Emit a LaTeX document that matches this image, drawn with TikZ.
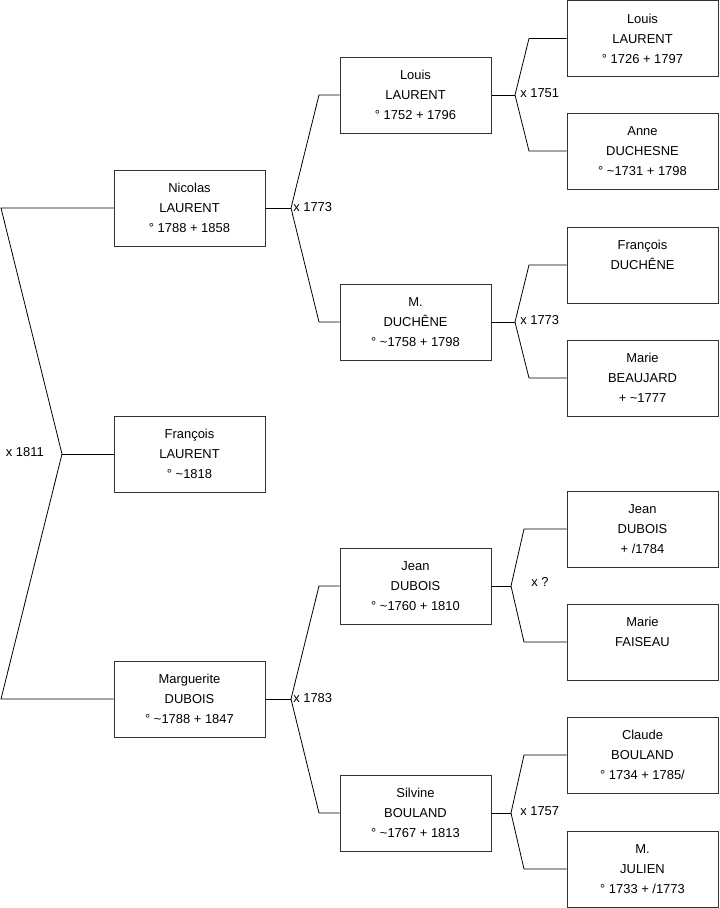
\documentclass[tikz,border=0pt]{standalone}
\usepackage{fontspec}
\setmainfont{Liberation Sans}
\usepackage{tikz}
\usetikzlibrary{positioning,calc}

\begin{document}
\begin{tikzpicture}[
    x=0.75pt,
    y=-0.75pt,
    font=\fontsize{9.7}{15}\selectfont,
    person/.style={
        draw=black!80,
        line width=0.75pt,
        minimum width=113.25pt,
        minimum height=57pt,
        inner sep=0pt,
        align=center,
        fill=white
    },
    link/.style={line width=0.6pt, black},
    marr/.style={inner sep=0pt, font=\fontsize{9.7}{11}\selectfont}
]
\useasboundingbox (0,0) rectangle (719,908);

% first generation
\node[person] (nicolas) at (189.5,208)
{Nicolas\\ LAURENT\\ ° 1788 + 1858};
\node[person] (francois) at (189.5,454)
{François\\ LAURENT\\ ° \textasciitilde1818};
\node[person] (marguerite) at (189.5,699)
{Marguerite\\ DUBOIS\\ ° \textasciitilde1788 + 1847};

% parents
\node[person] (louis) at (415.5,95)
{Louis\\ LAURENT\\ ° 1752 + 1796};
\node[person] (mduchene) at (415.5,322)
{M.\\ DUCHÊNE\\ ° \textasciitilde1758 + 1798};
\node[person] (jean) at (415.5,586)
{Jean\\ DUBOIS\\ ° \textasciitilde1760 + 1810};
\node[person] (silvine) at (415.5,813)
{Silvine\\ BOULAND\\ ° \textasciitilde1767 + 1813};

% grandparents
\node[person] (louisl) at (642.5,38.5)
{Louis\\ LAURENT\\ ° 1726 + 1797};
\node[person] (anne) at (642.5,151)
{Anne\\ DUCHESNE\\ ° \textasciitilde1731 + 1798};
\node[person] (francoisd) at (642.5,265)
{François\\ DUCHÊNE\\ \mbox{}};
\node[person] (marieb) at (642.5,378)
{Marie\\ BEAUJARD\\ + \textasciitilde1777};
\node[person] (jeand) at (642.5,529)
{Jean\\ DUBOIS\\ + /1784};
\node[person] (marief) at (642.5,642)
{Marie\\ FAISEAU\\ \mbox{}};
\node[person] (claude) at (642.5,755)
{Claude\\ BOULAND\\ ° 1734 + 1785/};
\node[person] (mjulien) at (642.5,869)
{M.\\ JULIEN\\ ° 1733 + /1773};

% junctions
\coordinate (jroot) at (62,454);
\coordinate (jnic) at (291,208);
\coordinate (jmar) at (291,699);
\coordinate (jlou) at (515,95);
\coordinate (jduc) at (515,322);
\coordinate (jjea) at (511,586);
\coordinate (jsil) at (511,813);

% links
\draw[link] (nicolas.west) -- (1,208) -- (jroot) -- (1,699) -- (marguerite.west);
\draw[link] (jroot) -- (francois.west);

\draw[link] (nicolas.east) -- (jnic);
\draw[link] (jnic) -- (319,95) -- (louis.west);
\draw[link] (jnic) -- (319,322) -- (mduchene.west);
\draw[link] (marguerite.east) -- (jmar);
\draw[link] (jmar) -- (319,586) -- (jean.west);
\draw[link] (jmar) -- (319,813) -- (silvine.west);

\draw[link] (louis.east) -- (jlou);
\draw[link] (jlou) -- (529,38.5) -- (louisl.west);
\draw[link] (jlou) -- (529,151) -- (anne.west);
\draw[link] (mduchene.east) -- (jduc);
\draw[link] (jduc) -- (529,265) -- (francoisd.west);
\draw[link] (jduc) -- (529,378) -- (marieb.west);
\draw[link] (jean.east) -- (jjea);
\draw[link] (jjea) -- (524,529) -- (jeand.west);
\draw[link] (jjea) -- (524,642) -- (marief.west);
\draw[link] (silvine.east) -- (jsil);
\draw[link] (jsil) -- (524,755) -- (claude.west);
\draw[link] (jsil) -- (524,869) -- (mjulien.west);

% marriages
\node[marr, anchor=east] (m1811) at (44,452) {x 1811};
\node[marr, anchor=west] (m1773a) at (293,207) {x 1773};
\node[marr, anchor=west] (m1783) at (293,698) {x 1783};
\node[marr, anchor=west] (m1751) at (520,93) {x 1751};
\node[marr, anchor=west] (m1773b) at (520,320) {x 1773};
\node[marr, anchor=west] (mquest) at (531,582) {x ?};
\node[marr, anchor=west] (m1757) at (520,811) {x 1757};

\end{tikzpicture}
\end{document}
